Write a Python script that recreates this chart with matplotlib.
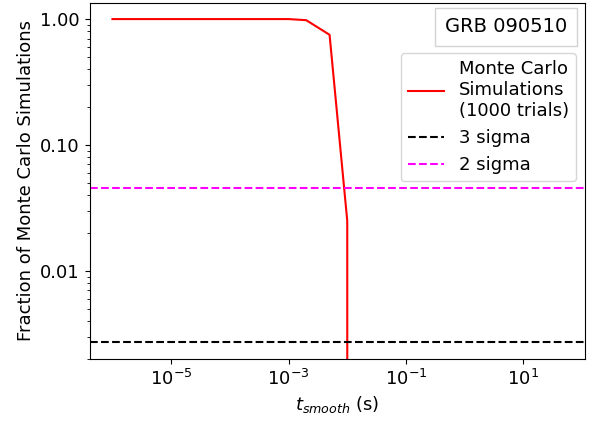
import numpy as np
import matplotlib
matplotlib.use('Agg')
import matplotlib.pyplot as plt
from matplotlib.ticker import FormatStrFormatter, FixedLocator, NullLocator

# smoothing timescales (s) and fraction of simulations above threshold
t_smooth = [1e-6, 1e-5, 1e-4, 1e-3, 2e-3, 5e-3, 1e-2, 2e-2, 5e-2, 1e-1,
            2e-1, 5e-1, 1.0, 2.0, 5.0, 10.0, 20.0, 50.0]
frac_sims = [1.0, 1.0, 1.0, 1.0, 0.98, 0.75, 0.025, 0.0, 0.0, 0.0,
             0.0, 0.0, 0.0, 0.0, 0.0, 0.0, 0.0, 0.0]

sigma3 = 0.0027
sigma2 = 0.0455

plt.rcParams['font.size'] = 13

fig, ax = plt.subplots(figsize=(5.93, 4.23), dpi=100)
fig.subplots_adjust(left=0.151, right=0.9865, top=0.9936, bottom=0.1513)

ax.plot(t_smooth, frac_sims, color='red', linewidth=1.5,
        label='Monte Carlo\nSimulations\n(1000 trials)')
ax.axhline(sigma3, color='k', linestyle='--', linewidth=1.5, label='3 sigma')
ax.axhline(sigma2, color='magenta', linestyle='--', linewidth=1.5, label='2 sigma')

ax.set_xscale('log')
ax.set_yscale('log')
ax.set_xlim(10**-6.39, 10**2.05)
ax.set_ylim(10**-2.70, 10**0.13)
ax.xaxis.set_major_locator(FixedLocator([1e-5, 1e-3, 1e-1, 1e1]))
ax.xaxis.set_minor_locator(NullLocator())
ax.yaxis.set_major_formatter(FormatStrFormatter('%.2f'))

ax.set_xlabel(r'$t_{smooth}$ (s)')
ax.set_ylabel('Fraction of Monte Carlo Simulations')

ax.legend(loc='upper right', bbox_to_anchor=(1.0, 0.884))
ax.text(0.8405, 0.932, 'GRB 090510', transform=ax.transAxes, fontsize=14,
        ha='center', va='center',
        bbox=dict(boxstyle='square,pad=0.5', fc='white', ec='lightgray'))

plt.savefig('out.png')
